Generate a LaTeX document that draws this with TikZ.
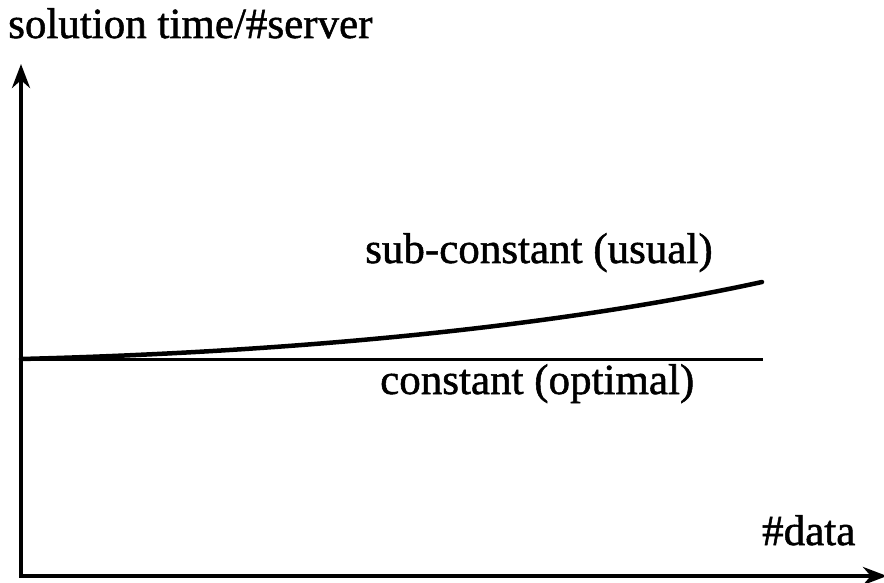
\documentclass[tikz,border=0pt]{standalone}
\usepackage{fontspec}
\setmainfont{Liberation Serif}[FakeBold=1.2]
\usetikzlibrary{arrows.meta}
\tikzset{
  axis/.style={line width=4pt, {Stealth[length=24pt,width=18pt]}-{Stealth[length=24pt,width=18pt]}},
  curveline/.style={line width=4.5pt, line cap=round},
  flatline/.style={line width=3pt},
  lbl/.style={anchor=base west, inner sep=0pt, font=\fontsize{43}{50}\selectfont}
}
\begin{document}
\begin{tikzpicture}[x=1pt,y=1pt]
\useasboundingbox (0,0) rectangle (884,582);
\coordinate (ytip) at (21,518);
\coordinate (origin) at (21,6);
\coordinate (xtip) at (887,6);
\draw[axis] (ytip) -- (origin) -- (xtip);
\coordinate (cstart) at (21,223);
\coordinate (cend) at (763,223);
\draw[flatline] (cstart) -- (cend);
\coordinate (sstart) at (21,223);
\coordinate (send) at (762,300);
\draw[curveline] (sstart) .. controls (300,230) and (560,256) .. (send);
\node[lbl] (ylabel) at (8,544) {solution time/\#server};
\node[lbl] (sublabel) at (365,319) {sub-constant (usual)};
\node[lbl] (constlabel) at (380,188) {constant (optimal)};
\node[lbl] (xlabel) at (762,37) {\#data};
\end{tikzpicture}
\end{document}
